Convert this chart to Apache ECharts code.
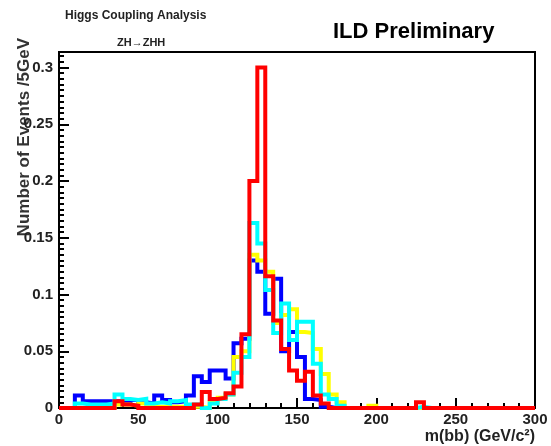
<!DOCTYPE html>
<html>
<head>
<meta charset="utf-8">
<script src="https://cdn.jsdelivr.net/npm/echarts@6/dist/echarts.min.js"></script>
<style>
  html, body { margin: 0; padding: 0; background: #fff; }
  #main { width: 551px; height: 446px; }
</style>
</head>
<body>
<div id="main"></div>
<script>
// m(bb) histograms, 5 GeV bins from 0 to 300
var binWidth = 5;
var xTicks = [0, 50, 100, 150, 200, 250, 300];
var yTicks = [0, 0.05, 0.1, 0.15, 0.2, 0.25, 0.3];

var blueHist = [0, 0, 0.011, 0.006, 0.006, 0.006, 0.006, 0.006, 0.005, 0.007,
  0.005, 0.004, 0.011, 0.007, 0.005, 0.006, 0.011, 0.028, 0.023, 0.033,
  0.033, 0.026, 0.057, 0.061, 0.13, 0.12, 0.083, 0.114, 0.05, 0.067,
  0.045, 0.008, 0.007, 0.001, 0, 0, 0, 0, 0, 0,
  0, 0, 0, 0, 0, 0, 0, 0, 0, 0,
  0, 0, 0, 0, 0, 0, 0, 0, 0, 0];
var cyanHist = [0, 0, 0.004, 0.003, 0.003, 0.003, 0.004, 0.012, 0.008, 0.007,
  0.008, 0.004, 0.005, 0.004, 0.006, 0.007, 0.003, 0.003, 0, 0.004,
  0.008, 0.012, 0.031, 0.045, 0.163, 0.145, 0.104, 0.066, 0.092, 0.06,
  0.076, 0.076, 0.039, 0.012, 0.008, 0.002, 0, 0, 0, 0,
  0, 0, 0, 0, 0, 0.001, 0, 0, 0, 0,
  0, 0, 0, 0, 0, 0, 0, 0, 0, 0];
var yellowHist = [0, 0, 0, 0, 0, 0, 0, 0.003, 0.003, 0.002,
  0.004, 0.001, 0.001, 0.001, 0.001, 0.001, 0.001, 0.001, 0, 0.005,
  0.009, 0.012, 0.045, 0.05, 0.135, 0.13, 0.12, 0.075, 0.082, 0.087,
  0.067, 0.066, 0.052, 0.03, 0.012, 0.005, 0, 0, 0, 0.002,
  0, 0, 0, 0, 0, 0, 0, 0, 0, 0,
  0, 0, 0, 0, 0, 0, 0, 0, 0, 0];
var redHist = [0, 0, 0, 0, 0, 0, 0, 0.006, 0.003, 0.002,
  0, 0, 0, 0, 0, 0, 0, 0.003, 0.014, 0.008,
  0.009, 0.013, 0.019, 0.065, 0.2, 0.3, 0.116, 0.077, 0.052, 0.033,
  0.024, 0.032, 0.011, 0.004, 0, 0, 0, 0, 0, 0,
  0, 0, 0, 0, 0, 0.005, 0, 0, 0, 0,
  0, 0, 0, 0, 0, 0, 0, 0, 0, 0];

// turn bin contents into step points (left edge of each bin + closing point)
function toSteps(vals) {
  var pts = vals.map(function (v, i) { return [i * binWidth, v]; });
  pts.push([vals.length * binWidth, vals[vals.length - 1]]);
  return pts;
}

function histSeries(vals, color) {
  return {
    type: 'line',
    step: 'end',
    data: toSteps(vals),
    symbol: 'none',
    lineStyle: { color: color, width: 4, join: 'miter' },
    silent: true
  };
}

var labelFont = { fontFamily: 'Liberation Sans', fontWeight: 'bold', fontSize: 15, color: '#222' };

var chart = echarts.init(document.getElementById('main'), null, { renderer: 'canvas' });
chart.setOption({
  animation: false,
  backgroundColor: '#fff',
  grid: { left: 59, right: 16, top: 52, bottom: 38, show: true, borderColor: '#000', borderWidth: 2, backgroundColor: '#fff' },
  xAxis: {
    type: 'value',
    min: xTicks[0],
    max: xTicks[xTicks.length - 1],
    interval: 50,
    axisLine: { lineStyle: { color: '#000', width: 2 } },
    axisTick: { inside: true, length: 10, lineStyle: { color: '#000', width: 2 } },
    minorTick: { show: true, splitNumber: 5, length: 5, lineStyle: { color: '#000', width: 2 } },
    splitLine: { show: false },
    axisLabel: Object.assign({ margin: 4 }, labelFont),
    name: 'm(bb) (GeV/c²)',
    nameLocation: 'end',
    nameGap: 0,
    nameTextStyle: { fontFamily: 'Liberation Sans', fontWeight: 'bold', fontSize: 16, color: '#222',
      align: 'right', verticalAlign: 'top', padding: [21, 0, 0, 0] }
  },
  yAxis: {
    type: 'value',
    min: 0,
    max: 0.3137,
    interval: 0.05,
    axisLine: { lineStyle: { color: '#000', width: 2 } },
    axisTick: { inside: true, length: 10, lineStyle: { color: '#000', width: 2 } },
    minorTick: { show: true, splitNumber: 10, length: 5, lineStyle: { color: '#000', width: 2 } },
    splitLine: { show: false },
    axisLabel: Object.assign({ margin: 6, showMaxLabel: false }, labelFont)
  },
  graphic: [
    { type: 'text', left: 65, top: 10, style: { text: 'Higgs Coupling Analysis', font: 'bold 12px "Liberation Sans"', fill: '#222' } },
    { type: 'text', left: 117, top: 37, style: { text: 'ZH→ZHH', font: 'bold 11px "Liberation Sans"', fill: '#222' } },
    { type: 'text', left: 333, top: 21, style: { text: 'ILD Preliminary', font: 'bold 22px "Liberation Sans"', fill: '#000' } },
    { type: 'text', x: 24, y: 38, rotation: Math.PI / 2,
      style: { text: 'Number of Events /5GeV', font: 'bold 17px "Liberation Sans"', fill: '#333', align: 'right', verticalAlign: 'middle' } }
  ],
  series: [
    histSeries(blueHist, '#0000ff'),
    histSeries(yellowHist, '#ffff00'),
    histSeries(cyanHist, '#00ffff'),
    histSeries(redHist, '#ff0000')
  ]
});
</script>
</body>
</html>
